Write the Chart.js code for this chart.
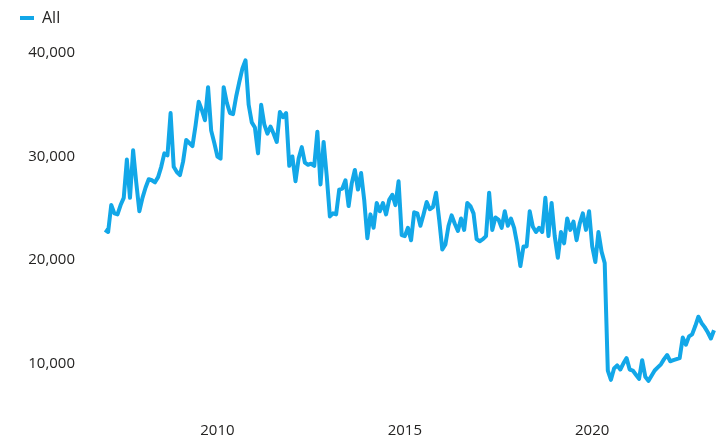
<!DOCTYPE html>
<html>
<head>
<meta charset="utf-8">
<script src="https://cdn.jsdelivr.net/npm/chart.js@4.4.1/dist/chart.umd.min.js"></script>
<style>
  html, body { margin: 0; padding: 0; background: #fff; overflow: hidden; }
  canvas { display: block; }
</style>
</head>
<body>
<canvas id="grafico" width="716" height="441"></canvas>
<script>
// monthly values, Jan 2007 .. Apr 2023
const valores = [
  22900, 22700, 25300, 24500, 24400, 25300, 26000, 29700, 26000, 30600, 27500, 24700,
  26000, 27000, 27800, 27700, 27500, 28000, 29000, 30300, 30100, 34200, 29000, 28500,
  28200, 29500, 31600, 31300, 31000, 33000, 35300, 34500, 33500, 36700, 32500, 31300,
  30000, 29800, 36700, 35200, 34200, 34100, 35800, 37200, 38500, 39300, 35000, 33300,
  32800, 30300, 35000, 33100, 32200, 32900, 32200, 31400, 34300, 33800, 34200, 29100,
  30000, 27600, 29800, 30900, 29400, 29200, 29300, 29100, 32400, 27300, 31400, 28100,
  24200, 24500, 24400, 26800, 26900, 27700, 25200, 27400, 28700, 26800, 28400, 25800,
  22100, 24400, 23100, 25500, 24700, 25500, 24400, 25800, 26300, 25300, 27600, 22400,
  22300, 23100, 21900, 24600, 24500, 23300, 24400, 25600, 24900, 25100, 26500, 23900,
  21000, 21500, 23300, 24300, 23500, 22800, 24000, 22900, 25500, 25200, 24500, 22000,
  21800, 22000, 22300, 26500, 22900, 24100, 23900, 23100, 24700, 23300, 24000, 23100,
  21500, 19400, 21300, 21300, 24700, 23200, 22700, 23100, 22700, 26000, 22300, 25500,
  22300, 20200, 22700, 21600, 24000, 22900, 23700, 21900, 23500, 24500, 22900, 24700,
  21300, 19800, 22700, 20800, 19700, 9300, 8400, 9500, 9800, 9400, 10000, 10500,
  9400, 9300, 8900, 8500, 10300, 8700, 8300, 8800, 9300, 9600, 9900, 10400,
  10800, 10200, 10300, 10400, 10500, 12500, 11800, 12600, 12800, 13600, 14500, 13900,
  13500, 13000, 12400, 13200
];
const anioInicio = 2007;
const aniosEje = [2010, 2015, 2020];
const ticksY = [10000, 20000, 30000, 40000];

const meses = [];
for (let i = 0; i < valores.length; i++) {
  const anio = anioInicio + Math.floor(i / 12);
  const mes = (i % 12) + 1;
  meses.push(anio + '-' + String(mes).padStart(2, '0'));
}

const colorLinea = '#12A7E8';
const fuente = '"Segoe UI", "Open Sans", sans-serif';

new Chart(document.getElementById('grafico'), {
  type: 'line',
  data: {
    labels: meses,
    datasets: [{
      label: 'All',
      data: valores,
      borderColor: colorLinea,
      backgroundColor: colorLinea,
      borderWidth: 4,
      pointRadius: 0,
      tension: 0,
      borderJoinStyle: 'round'
    }]
  },
  options: {
    responsive: false,
    animation: false,
    layout: { padding: { left: 10, right: 2, top: 0, bottom: 0 } },
    plugins: {
      tooltip: { enabled: false },
      legend: {
        position: 'top',
        align: 'start',
        labels: {
          usePointStyle: true,
          pointStyle: 'line',
          pointStyleWidth: 14,
          color: '#252423',
          font: { family: fuente, size: 16 },
          padding: 10
        }
      }
    },
    scales: {
      x: {
        grid: { display: false, drawTicks: false },
        border: { display: false },
        afterFit: s => {
          s.height = 26;
          s.paddingLeft = 0;
          s.paddingRight = 0;
        },
        ticks: {
          autoSkip: false,
          maxRotation: 0,
          padding: 7,
          color: '#252423',
          font: { family: fuente, size: 15 },
          callback: function (v, i) {
            const lab = meses[i];
            const anio = parseInt(lab.slice(0, 4));
            return (lab.endsWith('-01') && aniosEje.includes(anio)) ? String(anio) : '';
          }
        }
      },
      y: {
        min: 5000,
        max: 41650,
        grid: { display: false, drawTicks: false },
        border: { display: false },
        afterFit: s => {
          s.width = 95;
          s.paddingTop = 0;
          s.paddingBottom = 0;
        },
        afterBuildTicks: s => { s.ticks = ticksY.map(v => ({ value: v })); },
        ticks: {
          padding: 30,
          color: '#252423',
          font: { family: fuente, size: 15 },
          callback: v => v.toLocaleString('en-US')
        }
      }
    }
  }
});
</script>
</body>
</html>
